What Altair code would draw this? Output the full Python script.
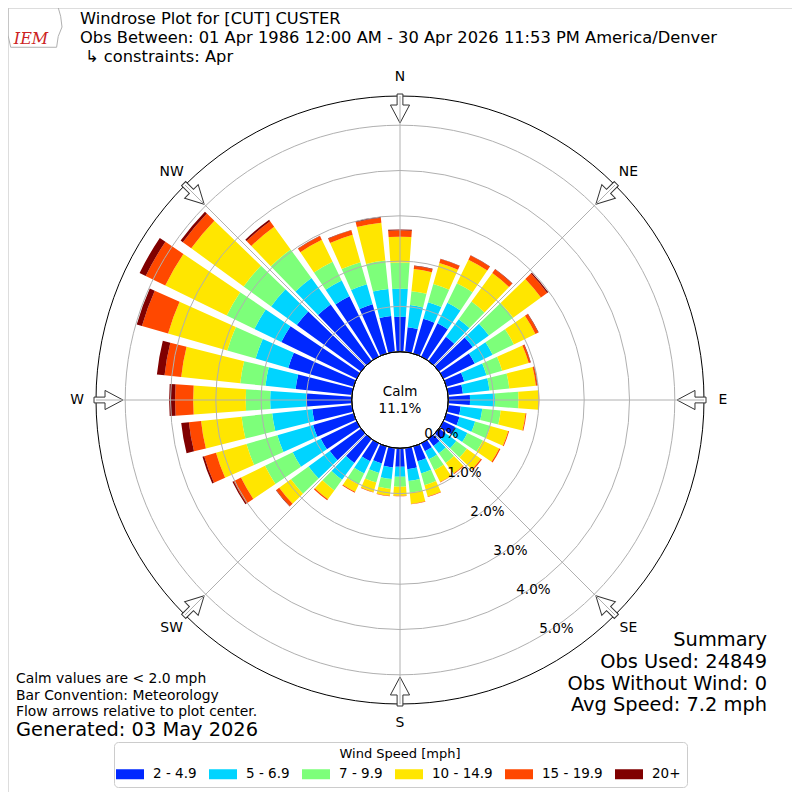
import math
import altair as alt
import pandas as pd

# ---------------- data ----------------
directions = list(range(0, 360, 10))
speed_bins = ["2 - 4.9", "5 - 6.9", "7 - 9.9", "10 - 14.9", "15 - 19.9", "20+"]
bin_colors = ["#0028ff", "#00d4ff", "#7dff7a", "#ffe600", "#ff4800", "#800000"]

pct_2_49 = [.77, .55, .80, .82, .66, .92, .77, .41, .33, .48, .28, .30, .29, .18, .19, .19, .34, .47,
            .41, .43, .39, .44, .65, .85, .88, .93, .88, .99, 1.25, 1.50, 1.85, 1.75, 1.54, 1.48, 1.13, .80]
pct_5_69 = [.62, .49, .38, .50, .48, .44, .44, .51, .59, .55, .48, .36, .30, .29, .20, .20, .28, .26,
            .22, .26, .22, .30, .46, .58, .69, .82, .89, .81, .67, .75, .66, .70, .72, .39, .46, .60]
pct_7_99 = [.58, .31, .42, .48, .48, .66, .52, .36, .44, .52, .41, .35, .38, .29, .26, .27, .27, .26,
            .22, .22, .22, .27, .29, .48, .68, .71, .68, .54, .56, .65, .68, .75, .78, .46, .51, .63]
pct_10_149 = [.57, .49, .48, .58, .78, .76, .53, .61, .59, .45, .55, .41, .40, .38, .29, .29, .26, .25,
              .20, .15, .22, .18, .24, .32, .59, .70, .90, 1.16, 1.31, 1.36, 1.51, 1.43, .62, .54, .63, .84]
pct_15_199 = [.14, .07, .09, .10, .10, .17, .07, .04, .03, .01, .02, .02, .03, .03, .02, .01, .01, .01,
              .01, .01, .01, .02, .03, .08, .18, .27, .27, .40, .37, .60, .48, .23, .15, .09, .10, .11]
pct_20p = [.02, .01, .01, .01, .01, .03, .01, .01, .01, 0, 0, 0, 0, 0, 0, 0, 0, 0,
           0, 0, 0, 0, 0, .01, .03, .04, .17, .13, .17, .12, .15, .06, .04, .01, .01, .02]
calm_pct = 11.1

ring_values = [0, 1, 2, 3, 4, 5]
compass_names = ["N", "NE", "E", "SE", "S", "SW", "W", "NW"]
compass_bearings = [0, 45, 90, 135, 180, 225, 270, 315]

title_lines = ["Windrose Plot for [CUT] CUSTER",
               "Obs Between: 01 Apr 1986 12:00 AM - 30 Apr 2026 11:53 PM America/Denver",
               "\u21b3 constraints: Apr"]
note_lines = ["Calm values are < 2.0 mph", "Bar Convention: Meteorology",
              "Flow arrows relative to plot center."]
generated = "Generated: 03 May 2026"
summary_lines = ["Summary", "Obs Used: 24849", "Obs Without Wind: 0", "Avg Speed: 7.2 mph"]

# ---------------- geometry ----------------
HOLE = 48.3          # px radius of the calm circle (0 %)
PX_PER_PCT = 45.3    # px per 1 %
OUTER = 304.0        # px radius of the frame circle
OUTER_PCT = (OUTER - HOLE) / PX_PER_PCT
HALF = 392
BAR_HALF_WIDTH = 4   # degrees
FONT = "DejaVu Sans"

theta_scale = alt.Scale(domain=[0, 360], range=[0, 2 * math.pi], zero=False, nice=False)
r_scale = alt.Scale(type="linear", domain=[0, OUTER_PCT], range=[HOLE, OUTER], zero=False, nice=False)
xs = alt.Scale(domain=[-HALF, HALF], range=[0, 2 * HALF], zero=False, nice=False)
ys = alt.Scale(domain=[-HALF, HALF], range=[2 * HALF, 0], zero=False, nice=False)

series = [pct_2_49, pct_5_69, pct_7_99, pct_10_149, pct_15_199, pct_20p]
rows = []
for j, d in enumerate(directions):
    cum = 0.0
    for i, b in enumerate(speed_bins):
        v = series[i][j]
        rows.append(dict(dir=d, a0=d - BAR_HALF_WIDTH, a1=d + BAR_HALF_WIDTH,
                         r0=cum, r1=cum + v, bin=b, order=i))
        cum += v
bar_df = pd.DataFrame(rows)

bars = alt.Chart(bar_df).mark_arc(strokeWidth=0).encode(
    theta=alt.Theta("a0:Q", scale=theta_scale, stack=None),
    theta2="a1:Q",
    radius=alt.Radius("r1:Q", scale=r_scale, stack=None),
    radius2="r0:Q",
    color=alt.Color("bin:N", scale=alt.Scale(domain=speed_bins, range=bin_colors),
                    legend=alt.Legend(title="Wind Speed [mph]", orient="none", legendX=106, legendY=734,
                                      direction="horizontal", columns=6,
                                      symbolType="M-1.4,-0.5H1.4V0.5H-1.4Z", symbolSize=400,
                                      symbolStrokeWidth=0, symbolOpacity=1,
                                      labelFontSize=13.5, labelFont=FONT, labelColor="black",
                                      titleFontSize=13, titleFont=FONT, titleColor="black",
                                      titleFontWeight="normal", titleAnchor="middle", titlePadding=3,
                                      strokeColor="#cccccc", fillColor="white", padding=6,
                                      cornerRadius=4, labelOffset=13, columnPadding=12)),
    order=alt.Order("order:Q"),
)

outer_df = pd.DataFrame({"v": [OUTER_PCT]})
outer = alt.Chart(outer_df).mark_arc(filled=False, stroke="black", strokeWidth=1,
                                     theta=0, theta2=2 * math.pi).encode(
    radius=alt.Radius("v:Q", scale=r_scale, stack=None))

# arrows at each compass point
arrow_r = 291.5
arrow_df = pd.DataFrame({
    "bearing": compass_bearings,
    "x": [arrow_r * math.sin(math.radians(b)) for b in compass_bearings],
    "y": [arrow_r * math.cos(math.radians(b)) for b in compass_bearings],
})
arrow_path = "M-0.2,-1L0.2,-1L0.2,-0.24L0.66,-0.24L0,1L-0.66,-0.24L-0.2,-0.24Z"
arrows = alt.Chart(arrow_df).mark_point(shape=arrow_path, size=841, filled=True, fill="white",
                                        stroke="#333333", strokeWidth=1, opacity=1).encode(
    x=alt.X("x:Q", scale=xs, axis=None),
    y=alt.Y("y:Q", scale=ys, axis=None),
    angle=alt.Angle("bearing:Q", scale=None),
)

ring_df = pd.DataFrame({"v": ring_values[1:]})
rings = alt.Chart(ring_df).mark_arc(filled=False, stroke="#b0b0b0", strokeWidth=1,
                                    theta=0, theta2=2 * math.pi).encode(
    radius=alt.Radius("v:Q", scale=r_scale, stack=None))

spoke_df = pd.DataFrame({
    "bearing": compass_bearings,
    "x": [HOLE * math.sin(math.radians(b)) for b in compass_bearings],
    "y": [HOLE * math.cos(math.radians(b)) for b in compass_bearings],
    "x2": [OUTER * math.sin(math.radians(b)) for b in compass_bearings],
    "y2": [OUTER * math.cos(math.radians(b)) for b in compass_bearings],
})
spokes = alt.Chart(spoke_df).mark_rule(color="#b0b0b0", strokeWidth=1).encode(
    x=alt.X("x:Q", scale=xs, axis=None), y=alt.Y("y:Q", scale=ys, axis=None),
    x2="x2:Q", y2="y2:Q")

hole_df = pd.DataFrame({"v": [0]})
hole = alt.Chart(hole_df).mark_arc(fill="white", stroke="black", strokeWidth=1,
                                   theta=0, theta2=2 * math.pi).encode(
    radius=alt.Radius("v:Q", scale=r_scale, stack=None))

calm_df = pd.DataFrame({"t": ["Calm", f"{calm_pct:.1f}%"], "y": [8.5, -8.5]})
calm = alt.Chart(calm_df).mark_text(font=FONT, fontSize=13.5, color="black", baseline="middle",
                                    align="center").encode(
    x=alt.value(HALF), y=alt.Y("y:Q", scale=ys, axis=None), text="t:N")

lab_b = math.radians(149.5)
ring_lab_df = pd.DataFrame({"v": ring_values})
ring_lab_df["t"] = [f"{v:.1f}%" for v in ring_values]
ring_lab_df["x"] = [(HOLE + v * PX_PER_PCT + 2) * math.sin(lab_b) - 18.5 * math.cos(lab_b) for v in ring_values]
ring_lab_df["y"] = [(HOLE + v * PX_PER_PCT + 2) * math.cos(lab_b) + 18.5 * math.sin(lab_b) for v in ring_values]
ring_labels = alt.Chart(ring_lab_df).mark_text(font=FONT, fontSize=13.5, color="black",
                                                baseline="middle", align="center").encode(
    x=alt.X("x:Q", scale=xs, axis=None), y=alt.Y("y:Q", scale=ys, axis=None), text="t:N")

dir_r = 323
dir_df = pd.DataFrame({
    "t": compass_names,
    "x": [dir_r * math.sin(math.radians(b)) for b in compass_bearings],
    "y": [dir_r * math.cos(math.radians(b)) for b in compass_bearings],
})
dir_labels = alt.Chart(dir_df).mark_text(font=FONT, fontSize=13.9, color="black",
                                         baseline="middle", align="center").encode(
    x=alt.X("x:Q", scale=xs, axis=None), y=alt.Y("y:Q", scale=ys, axis=None), text="t:N")


def label(text, x, y, size, align="left", **kw):
    return alt.Chart(alt.Data(values=[{}])).mark_text(
        text=text, font=kw.pop("font", FONT), fontSize=size, align=align, baseline="middle",
        color=kw.pop("color", "black"), **kw).encode(x=alt.value(x), y=alt.value(y))


texts = [
    label(title_lines[0], 72, 11, 16.3),
    label(title_lines[1], 72, 30, 16.3),
    label(title_lines[2], 77, 49, 16.3),
    label(note_lines[0], 8, 671, 13.9),
    label(note_lines[1], 8, 688, 13.9),
    label(note_lines[2], 8, 704, 13.9),
    label(generated, 8, 722, 19.4),
    label(summary_lines[0], 759, 632, 19.4, align="right"),
    label(summary_lines[1], 759, 654, 19.4, align="right"),
    label(summary_lines[2], 759, 676, 19.4, align="right"),
    label(summary_lines[3], 759, 697, 19.4, align="right"),
]

logo_outline = alt.Chart(alt.Data(values=[{}])).mark_point(
    shape="M-1,-0.75L0.85,-0.75L0.95,-0.4L1,0L0.86,0.35L0.8,0.75L-0.9,0.75L-1,0.3Z",
    size=2916, filled=False, stroke="#b0b0b0", strokeWidth=1, opacity=1).encode(
    x=alt.value(27), y=alt.value(19))
logo_text = label("IEM", 23, 31, 16, align="center", font="DejaVu Serif",
                  color="#cc2222", fontStyle="italic")

chart = alt.layer(
    bars, outer, arrows, rings, spokes, hole, calm, ring_labels, dir_labels,
    logo_outline, logo_text, *texts
).properties(
    width=2 * HALF, height=2 * HALF, padding=0,
    autosize=alt.AutoSizeParams(type="none"),
).configure_view(strokeOpacity=0).configure(font=FONT)

chart.save("out.html", embed_options={"renderer": "svg", "actions": False})
